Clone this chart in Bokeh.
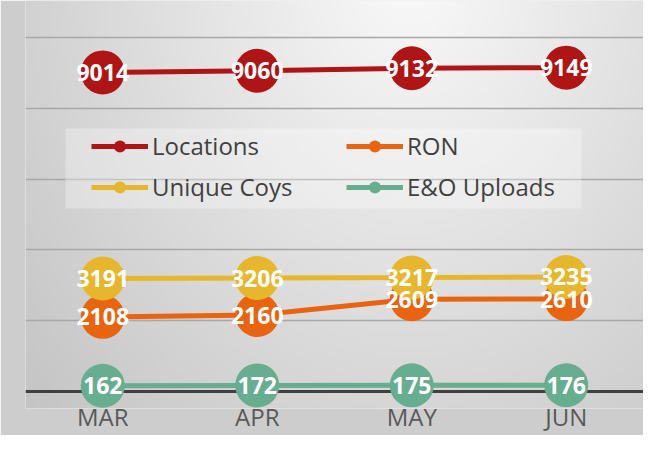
import numpy as np
from bokeh.plotting import figure
from bokeh.models import (ColumnDataSource, FactorRange, Range1d, Span, Legend, LegendItem,
                          BoxAnnotation, FixedTicker)
from bokeh.core.properties import value
from bokeh.embed import file_html
from bokeh.resources import INLINE

months = ["MAR", "APR", "MAY", "JUN"]
locations = [9014, 9060, 9132, 9149]
ron = [2108, 2160, 2609, 2610]
unique_coys = [3191, 3206, 3217, 3235]
eo_uploads = [162, 172, 175, 176]
series_names = ["Locations", "RON", "Unique Coys", "E&O Uploads"]
series_values = [locations, ron, unique_coys, eo_uploads]
series_colors = ["#b01515", "#e8640f", "#e6b72c", "#67ad8f"]
grid_ticks = [2000, 4000, 6000, 8000, 10000]

FONT = "Open Sans"
W_FIG, H_FIG = 643, 435
LEFT = 25
F = 408            # expected frame bottom (px from top)
K = 10000 / 354.0  # data units per pixel
Y1 = 10000 + 37 * K
Y0 = -(F - 391) * K

p = figure(width=W_FIG, height=H_FIG, x_range=FactorRange(*months),
           y_range=Range1d(Y0, Y1), output_backend="svg", toolbar_location=None,
           y_axis_location=None, min_border_left=LEFT, min_border_right=0,
           min_border_top=0, min_border_bottom=H_FIG - F)
p.x_range.range_padding = 0
p.outline_line_color = None
p.border_fill_color = "#cdcdcd"
p.background_fill_color = "#e4e4e4"

# soft radial gradient background for the plot frame
H, W = 80, 120
frame_w, frame_h = W_FIG - LEFT, F
yy, xx = np.mgrid[0:H, 0:W]
px = LEFT + xx * (frame_w / (W - 1))
py = (H - 1 - yy) * (frame_h / (H - 1))
d = np.sqrt(((px - 410) * 1.3) ** 2 + (py + 40) ** 2)
c = np.clip(250 - 0.08 * d, 195, 250).astype(np.uint32)
img = ((255 << 24) | (c << 16) | (c << 8) | c).astype(np.uint32)
bg = p.image_rgba(image=[img], x=0, y=Y0, dw=len(months), dh=Y1 - Y0)
bg.level = "image"

p.xgrid.visible = False
p.ygrid.ticker = FixedTicker(ticks=grid_ticks)
p.ygrid.grid_line_color = "#a8a8a8"
p.ygrid.grid_line_width = 1.5

axis_line = Span(location=0, dimension="width", line_color="#404040", line_width=3, level="underlay")
p.add_layout(axis_line)

p.xaxis.axis_line_color = None
p.xaxis.major_tick_line_color = None
p.xaxis.major_tick_out = 0
p.xaxis.major_tick_in = 0
p.xaxis.major_label_standoff = -9
p.xaxis.major_label_text_line_height = 0.8
p.xaxis.major_label_text_font = FONT
p.xaxis.major_label_text_font_size = "24px"
p.xaxis.major_label_text_color = "#595959"

box = BoxAnnotation(left=40, right=556, top=F - 128, bottom=F - 208,
                    left_units="screen", right_units="screen",
                    top_units="screen", bottom_units="screen",
                    fill_color="white", fill_alpha=0.3, line_color=None, level="underlay")
p.add_layout(box)

renderers = {}
for i in range(len(series_names)):
    src = ColumnDataSource(dict(m=months, v=series_values[i], t=[str(v) for v in series_values[i]]))
    lr = p.line("m", "v", source=src, line_color=series_colors[i], line_width=5)
    sr = p.scatter("m", "v", source=src, size=44, fill_color=series_colors[i], line_color=None)
    renderers[i] = (lr, sr, src)

for i in range(len(series_names)):
    p.text("m", "v", text="t", source=renderers[i][2], text_color="white", text_font=value(FONT),
           text_font_style="bold", text_font_size="23px", text_align="center",
           text_baseline="middle")

legend_order = [0, 2, 1, 3]
items = [LegendItem(label=series_names[i], renderers=[renderers[i][0], renderers[i][1]])
         for i in legend_order]
legend = Legend(items=items, ncols=2, location=(66, F - 203), padding=0, margin=0, spacing=8,
                glyph_width=57, glyph_height=30, label_standoff=4, label_width=186,
                label_text_font=FONT, label_text_font_size="24px", label_text_color="#404040",
                background_fill_alpha=0, border_line_alpha=0)
p.add_layout(legend)

open("out.html", "w").write(file_html(p, INLINE))
